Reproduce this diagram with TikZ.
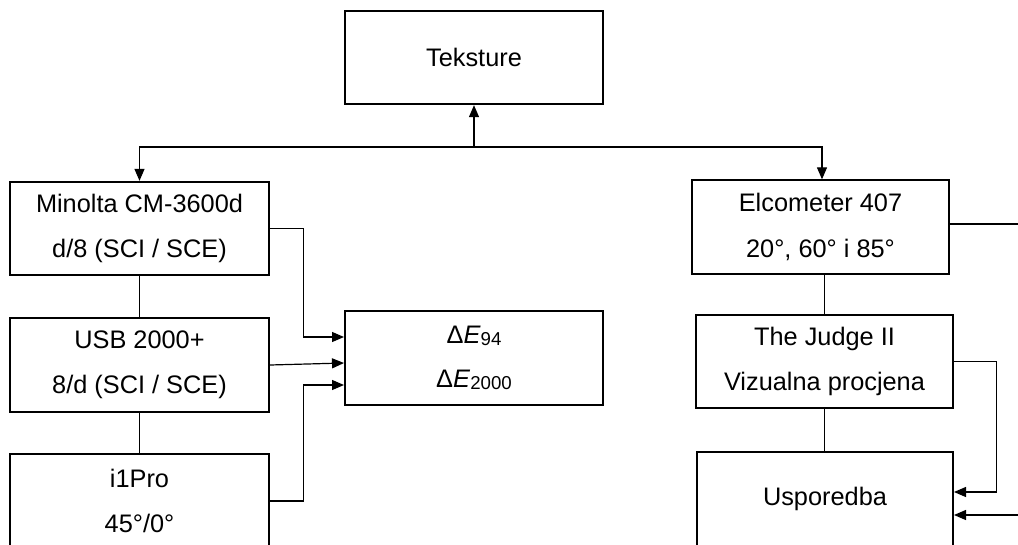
\documentclass[tikz,border=0pt]{standalone}
\usepackage{fontspec}
\setmainfont{Liberation Sans}
\usetikzlibrary{arrows.meta,calc}
\tikzset{
  box/.style={draw, line width=1.5pt, minimum width=194pt, minimum height=70pt,
    align=center, inner sep=0pt, font=\fontsize{19}{34}\selectfont},
  link/.style={line width=0.9pt},
  arr/.style={line width=0.9pt, -{Triangle[length=9pt,width=7.5pt]}}
}
\newcommand{\sbs}[1]{{\fontsize{14}{14}\selectfont\raisebox{-0.2ex}{#1}}}
\begin{document}
\begin{tikzpicture}[x=0.75pt,y=-0.75pt]
\useasboundingbox (0,0) rectangle (1018,544);
\clip (0,0) rectangle (1018,544);
% nodes
\node[box] (T) at (474,57.5) {Teksture};
\node[box] (M) at (139.5,228.5) {Minolta CM-3600d\\d/8 (SCI / SCE)};
\node[box] (U) at (139.5,365) {USB 2000+\\8/d (SCI / SCE)};
\node[box] (I) at (139.5,501) {i1Pro\\45°/0°};
\node[box, minimum width=193.5pt] (D) at (474,358) {Δ\textit{E}\sbs{94}\\[-1.5pt]Δ\textit{E}\sbs{2000}};
\node[box, minimum width=193pt] (E) at (820.5,227) {Elcometer 407\\20°, 60° i 85°};
\node[box, minimum width=193pt] (J) at (824.5,361.5) {The Judge II\\Vizualna procjena};
\node[box, minimum width=192pt] (S) at (825,499) {Usporedba};
% junction and edge coordinates
\coordinate (j) at (474,147);
\coordinate (vx) at (824.5,0);
\coordinate (eR) at (1022,224);
\coordinate (sR) at (1022,515);
% top tree
\draw[arr] (j) -- (T.south);
\draw[arr] (j) -| (M.north);
\draw[arr] (j) -| ($(E.north)+(1.5,0)$);
% left column
\draw[link] (M.south) -- (U.north);
\draw[link] (U.south) -- (I.north);
\draw[arr] (M.east) -- ++(34,0) |- ($(D.west)+(0,-21)$);
\draw[arr] (U.east) -- ($(D.west)+(0,5)$);
\draw[arr] (I.east) -- ++(34,0) |- ($(D.west)+(0,27)$);
% right column
\draw[link] (vx |- E.south) -- (vx |- J.north);
\draw[link] (vx |- J.south) -- (vx |- S.north);
\draw[link] ($(E.east)+(0,-3)$) -- (eR);
\draw[arr] (J.east) -- ++(42,0) |- ($(S.east)+(0,-7)$);
\draw[arr] (sR) -- ($(S.east)+(0,16)$);
\end{tikzpicture}
\end{document}
